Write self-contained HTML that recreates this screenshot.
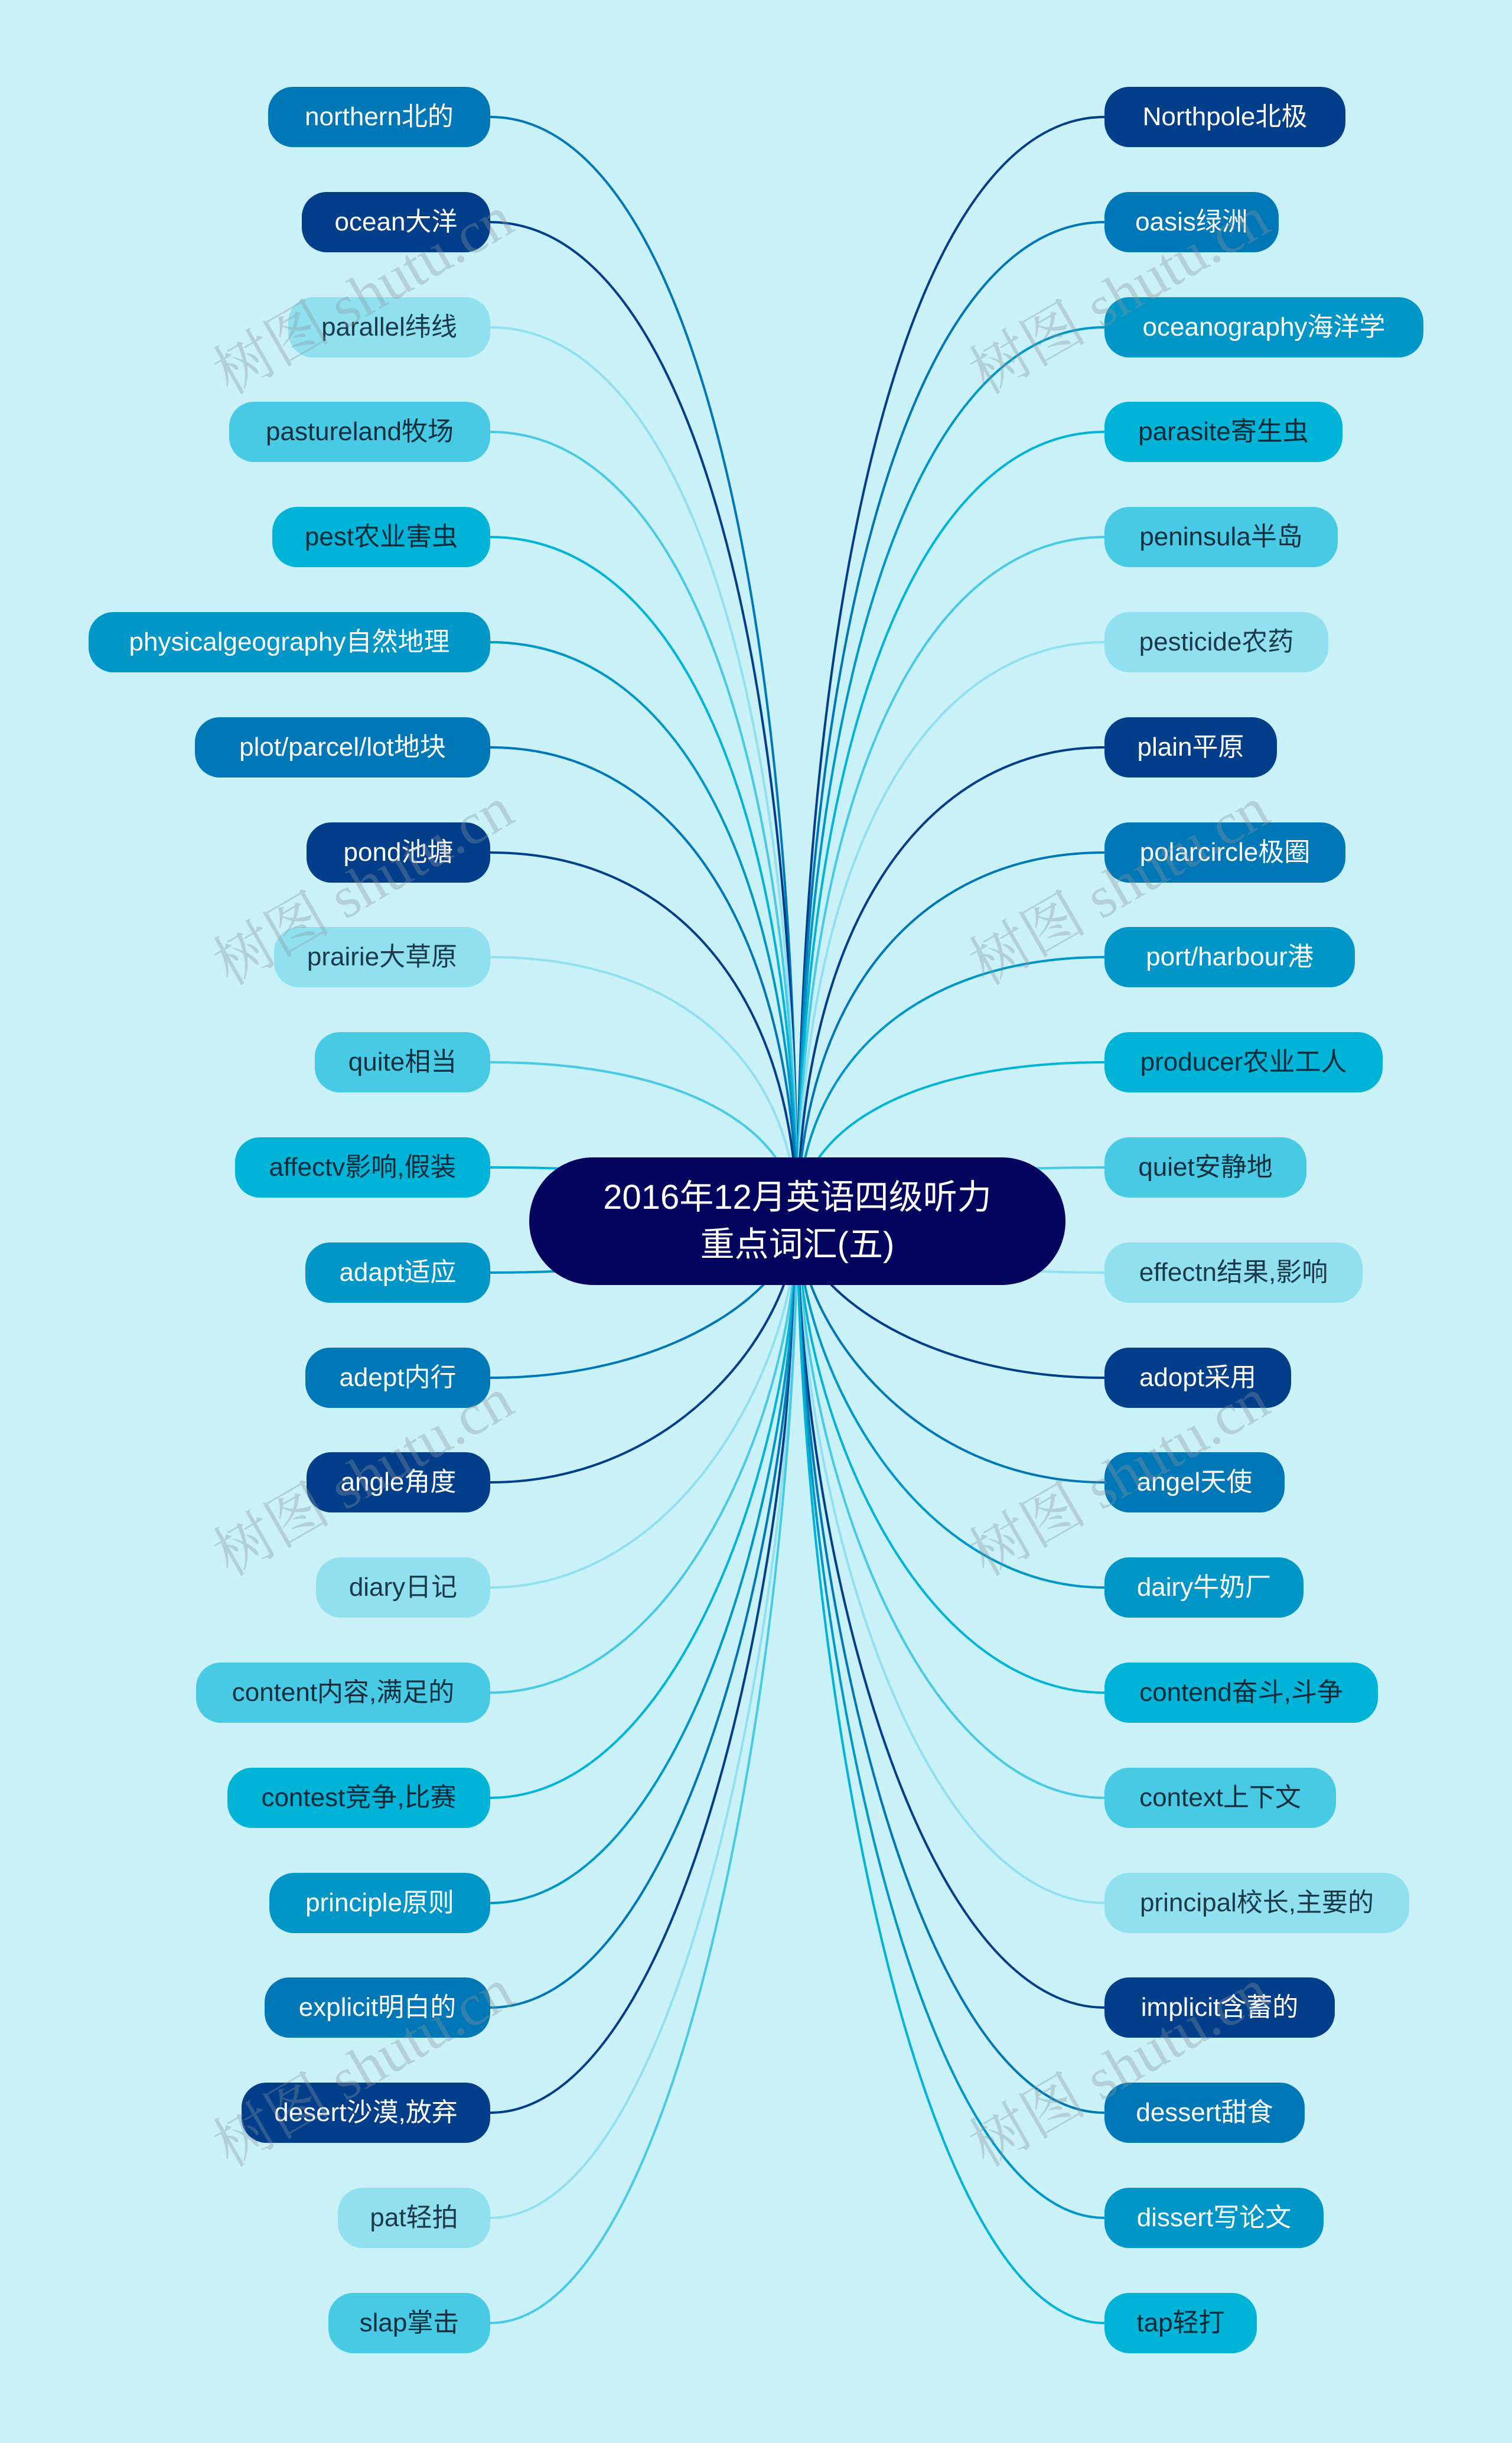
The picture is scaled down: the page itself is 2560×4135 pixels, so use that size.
<!DOCTYPE html>
<html><head><meta charset="utf-8"><style>
html,body{margin:0;padding:0}
body{width:2560px;height:4135px;background:#caf0f8;position:relative;overflow:hidden;font-family:"Liberation Sans","Noto Sans CJK SC",sans-serif}
svg{position:absolute;left:0;top:0}
.n{position:absolute;height:102px;line-height:102px;border-radius:42px;font-size:44px;text-align:center;white-space:nowrap;box-sizing:border-box}
.a{background:#0077b6;color:#fff}.b{background:#023e8a;color:#fff}.c{background:#90e0ef;color:#1a3a4a}.d{background:#48cae4;color:#103040}.e{background:#00b4d8;color:#0a2a3a}.f{background:#0096c7;color:#fff}
.w{position:absolute;font-family:"Liberation Serif","Noto Serif CJK SC",serif;font-size:100px;color:rgba(140,150,155,0.35);transform:rotate(-30deg);white-space:nowrap}
#center{position:absolute;left:896px;top:1959px;width:908px;height:216px;background:#03045e;border-radius:108px;color:#fff;font-size:58px;line-height:80px;text-align:center;display:flex;align-items:center;justify-content:center}
</style></head><body>
<svg width="2560" height="4135" fill="none" stroke-width="4">
<path d="M830 198C1150 198 1345 946 1350 2067" stroke="#0077b6"/>
<path d="M830 376C1150 376 1345 1052 1350 2067" stroke="#023e8a"/>
<path d="M830 554C1150 554 1345 1159 1350 2067" stroke="#90e0ef"/>
<path d="M830 731C1150 731 1345 1265 1350 2067" stroke="#48cae4"/>
<path d="M830 909C1150 909 1345 1372 1350 2067" stroke="#00b4d8"/>
<path d="M830 1087C1150 1087 1345 1479 1350 2067" stroke="#0096c7"/>
<path d="M830 1265C1150 1265 1345 1586 1350 2067" stroke="#0077b6"/>
<path d="M830 1443C1150 1443 1345 1693 1350 2067" stroke="#023e8a"/>
<path d="M830 1620C1150 1620 1345 1799 1350 2067" stroke="#90e0ef"/>
<path d="M830 1798C1150 1798 1345 1906 1350 2067" stroke="#48cae4"/>
<path d="M830 1976C1150 1976 1345 2012 1350 2067" stroke="#00b4d8"/>
<path d="M830 2154C1150 2154 1345 2102 1350 2067" stroke="#0096c7"/>
<path d="M830 2332C1150 2332 1345 2173 1350 2067" stroke="#0077b6"/>
<path d="M830 2509C1150 2509 1345 2244 1350 2067" stroke="#023e8a"/>
<path d="M830 2687C1150 2687 1345 2315 1350 2067" stroke="#90e0ef"/>
<path d="M830 2865C1150 2865 1345 2386 1350 2067" stroke="#48cae4"/>
<path d="M830 3043C1150 3043 1345 2457 1350 2067" stroke="#00b4d8"/>
<path d="M830 3221C1150 3221 1345 2528 1350 2067" stroke="#0096c7"/>
<path d="M830 3398C1150 3398 1345 2599 1350 2067" stroke="#0077b6"/>
<path d="M830 3576C1150 3576 1345 2670 1350 2067" stroke="#023e8a"/>
<path d="M830 3754C1150 3754 1345 2742 1350 2067" stroke="#90e0ef"/>
<path d="M830 3932C1150 3932 1345 2813 1350 2067" stroke="#48cae4"/>
<path d="M1870 198C1550 198 1355 946 1350 2067" stroke="#023e8a"/>
<path d="M1870 376C1550 376 1355 1052 1350 2067" stroke="#0077b6"/>
<path d="M1870 554C1550 554 1355 1159 1350 2067" stroke="#0096c7"/>
<path d="M1870 731C1550 731 1355 1265 1350 2067" stroke="#00b4d8"/>
<path d="M1870 909C1550 909 1355 1372 1350 2067" stroke="#48cae4"/>
<path d="M1870 1087C1550 1087 1355 1479 1350 2067" stroke="#90e0ef"/>
<path d="M1870 1265C1550 1265 1355 1586 1350 2067" stroke="#023e8a"/>
<path d="M1870 1443C1550 1443 1355 1693 1350 2067" stroke="#0077b6"/>
<path d="M1870 1620C1550 1620 1355 1799 1350 2067" stroke="#0096c7"/>
<path d="M1870 1798C1550 1798 1355 1906 1350 2067" stroke="#00b4d8"/>
<path d="M1870 1976C1550 1976 1355 2012 1350 2067" stroke="#48cae4"/>
<path d="M1870 2154C1550 2154 1355 2102 1350 2067" stroke="#90e0ef"/>
<path d="M1870 2332C1550 2332 1355 2173 1350 2067" stroke="#023e8a"/>
<path d="M1870 2509C1550 2509 1355 2244 1350 2067" stroke="#0077b6"/>
<path d="M1870 2687C1550 2687 1355 2315 1350 2067" stroke="#0096c7"/>
<path d="M1870 2865C1550 2865 1355 2386 1350 2067" stroke="#00b4d8"/>
<path d="M1870 3043C1550 3043 1355 2457 1350 2067" stroke="#48cae4"/>
<path d="M1870 3221C1550 3221 1355 2528 1350 2067" stroke="#90e0ef"/>
<path d="M1870 3398C1550 3398 1355 2599 1350 2067" stroke="#023e8a"/>
<path d="M1870 3576C1550 3576 1355 2670 1350 2067" stroke="#0077b6"/>
<path d="M1870 3754C1550 3754 1355 2742 1350 2067" stroke="#0096c7"/>
<path d="M1870 3932C1550 3932 1355 2813 1350 2067" stroke="#00b4d8"/>
</svg>

<div class="n a" style="left:454px;width:376px;top:147px">northern北的</div>
<div class="n b" style="left:511px;width:319px;top:325px">ocean大洋</div>
<div class="n c" style="left:488px;width:342px;top:503px">parallel纬线</div>
<div class="n d" style="left:388px;width:442px;top:680px">pastureland牧场</div>
<div class="n e" style="left:461px;width:369px;top:858px">pest农业害虫</div>
<div class="n f" style="left:150px;width:680px;top:1036px">physicalgeography自然地理</div>
<div class="n a" style="left:330px;width:500px;top:1214px">plot/parcel/lot地块</div>
<div class="n b" style="left:519px;width:311px;top:1392px">pond池塘</div>
<div class="n c" style="left:464px;width:366px;top:1569px">prairie大草原</div>
<div class="n d" style="left:533px;width:297px;top:1747px">quite相当</div>
<div class="n e" style="left:398px;width:432px;top:1925px">affectv影响,假装</div>
<div class="n f" style="left:517px;width:313px;top:2103px">adapt适应</div>
<div class="n a" style="left:517px;width:313px;top:2281px">adept内行</div>
<div class="n b" style="left:519px;width:311px;top:2458px">angle角度</div>
<div class="n c" style="left:535px;width:295px;top:2636px">diary日记</div>
<div class="n d" style="left:332px;width:498px;top:2814px">content内容,满足的</div>
<div class="n e" style="left:385px;width:445px;top:2992px">contest竞争,比赛</div>
<div class="n f" style="left:456px;width:374px;top:3170px">principle原则</div>
<div class="n a" style="left:448px;width:382px;top:3347px">explicit明白的</div>
<div class="n b" style="left:409px;width:421px;top:3525px">desert沙漠,放弃</div>
<div class="n c" style="left:572px;width:258px;top:3703px">pat轻拍</div>
<div class="n d" style="left:556px;width:274px;top:3881px">slap掌击</div>

<div class="n b" style="left:1870px;width:408px;top:147px">Northpole北极</div>
<div class="n a" style="left:1870px;width:295px;top:325px">oasis绿洲</div>
<div class="n f" style="left:1870px;width:540px;top:503px">oceanography海洋学</div>
<div class="n e" style="left:1870px;width:403px;top:680px">parasite寄生虫</div>
<div class="n d" style="left:1870px;width:395px;top:858px">peninsula半岛</div>
<div class="n c" style="left:1870px;width:379px;top:1036px">pesticide农药</div>
<div class="n b" style="left:1870px;width:292px;top:1214px">plain平原</div>
<div class="n a" style="left:1870px;width:408px;top:1392px">polarcircle极圈</div>
<div class="n f" style="left:1870px;width:424px;top:1569px">port/harbour港</div>
<div class="n e" style="left:1870px;width:471px;top:1747px">producer农业工人</div>
<div class="n d" style="left:1870px;width:342px;top:1925px">quiet安静地</div>
<div class="n c" style="left:1870px;width:437px;top:2103px">effectn结果,影响</div>
<div class="n b" style="left:1870px;width:316px;top:2281px">adopt采用</div>
<div class="n a" style="left:1870px;width:305px;top:2458px">angel天使</div>
<div class="n f" style="left:1870px;width:337px;top:2636px">dairy牛奶厂</div>
<div class="n e" style="left:1870px;width:463px;top:2814px">contend奋斗,斗争</div>
<div class="n d" style="left:1870px;width:392px;top:2992px">context上下文</div>
<div class="n c" style="left:1870px;width:516px;top:3170px">principal校长,主要的</div>
<div class="n b" style="left:1870px;width:390px;top:3347px">implicit含蓄的</div>
<div class="n a" style="left:1870px;width:339px;top:3525px">dessert甜食</div>
<div class="n f" style="left:1870px;width:371px;top:3703px">dissert写论文</div>
<div class="n e" style="left:1870px;width:258px;top:3881px">tap轻打</div>

<div id="center"><div>2016年12月英语四级听力<br>重点词汇(五)</div></div>

<div class="w" style="left:330px;top:420px">树图 shutu.cn</div>
<div class="w" style="left:1610px;top:420px">树图 shutu.cn</div>
<div class="w" style="left:330px;top:1420px">树图 shutu.cn</div>
<div class="w" style="left:1610px;top:1420px">树图 shutu.cn</div>
<div class="w" style="left:330px;top:2420px">树图 shutu.cn</div>
<div class="w" style="left:1610px;top:2420px">树图 shutu.cn</div>
<div class="w" style="left:330px;top:3420px">树图 shutu.cn</div>
<div class="w" style="left:1610px;top:3420px">树图 shutu.cn</div>
</body></html>
